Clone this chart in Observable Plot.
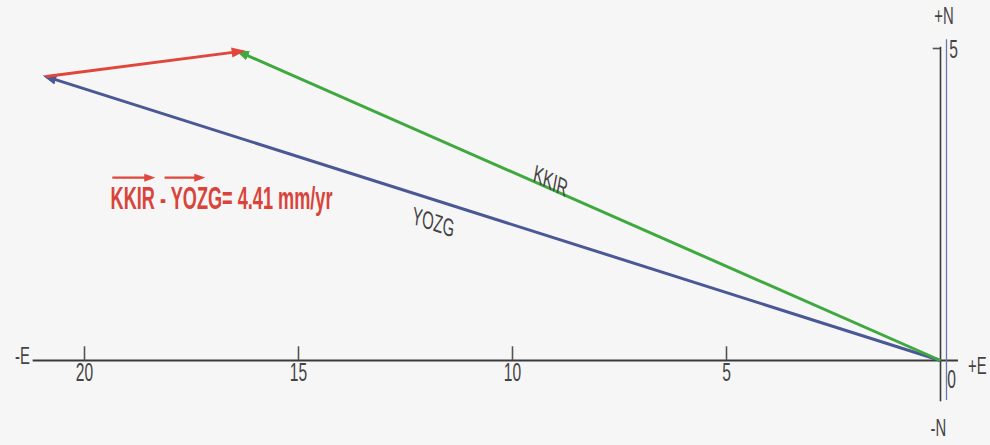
<!DOCTYPE html>
<html><head><meta charset="utf-8">
<script src="https://cdn.jsdelivr.net/npm/d3@7"></script>
<script src="https://cdn.jsdelivr.net/npm/@observablehq/plot@0.6"></script>
<style>
  html, body { margin: 0; padding: 0; background: #f6f6f6; overflow: hidden; }
  #chart svg { display: block; background: #f6f6f6; }
</style>
</head><body><div id="chart"></div>
<script>
// Velocity vectors (mm/yr): East component (negative = west), North component
const stations = ["YOZG", "KKIR"];
const eastVel = [-20.9, -16.4];
const northVel = [4.55, 4.95];
const stationColors = ["#4b5896", "#3fa93f"];
const diffColor = "#e0463b";
const diffLabel = "KKIR - YOZG= 4.41 mm/yr";

// Axis ticks
const xTickValues = [-20, -15, -10, -5];
const xTickLabels = ["20", "15", "10", "5"];
const yTickValues = [5];
const yTickLabels = ["5"];
const originLabel = "0";

// Axis direction labels
const axisLabels = ["-E", "+E", "+N", "-N"];
const axisLabelX = [-21.45, 0.86, 0.08, -0.05];
const axisLabelY = [0.06, -0.1, 5.52, -1.09];

// Station label anchors along the vectors
const stationLabelX = [-11.85, -9.11];
const stationLabelY = [2.21, 2.87];
const stationLabelAngle = [11.5, 16.8];

// Difference annotation
const diffLabelX = [-19.39];
const diffLabelY = [2.6];
const overArrowX1 = [-19.35, -18.13];
const overArrowX2 = [-18.45, -17.28];
const overArrowY = [2.93, 2.93];

const vectors = stations.map((s, i) => ({name: s, e: eastVel[i], n: northVel[i], color: stationColors[i]}));
const diff = [{e1: eastVel[0], n1: northVel[0], e2: eastVel[1], n2: northVel[1]}];
const stationLabels = stations.map((s, i) => ({name: s, x: stationLabelX[i], y: stationLabelY[i], a: stationLabelAngle[i]}));
const axisLab = axisLabels.map((t, i) => ({t, x: axisLabelX[i], y: axisLabelY[i]}));
const xTicks = xTickValues.map((v, i) => ({v, label: xTickLabels[i]}));
const yTicks = yTickValues.map((v, i) => ({v, label: yTickLabels[i]}));
const overArrows = overArrowX1.map((x1, i) => ({x1, x2: overArrowX2[i], y: overArrowY[i]}));

const font = "Liberation Sans, Arial, sans-serif";
const ink = "#3a3a3a";

// filled triangular arrowhead marker
function filledHead(size, refX) {
  return (color, context) => {
    const m = d3.create("svg:marker")
      .attr("viewBox", "-5 -5 10 10")
      .attr("markerWidth", size)
      .attr("markerHeight", size)
      .attr("refX", refX)
      .attr("orient", "auto")
      .attr("fill", color)
      .attr("stroke", "none");
    m.append("path").attr("d", "M-5,-3.6L5,0L-5,3.6Z");
    return m.node();
  };
}

function build(useCustom) {
  const vecMark = useCustom
    ? Plot.link(vectors, {x1: 0, y1: 0, x2: "e", y2: "n", stroke: "color", strokeWidth: 3, markerEnd: filledHead(4.6, 2.5)})
    : Plot.arrow(vectors, {x1: 0, y1: 0, x2: "e", y2: "n", stroke: "color", strokeWidth: 3, headLength: 12, headAngle: 40});
  const diffMark = useCustom
    ? Plot.link(diff, {x1: "e1", y1: "n1", x2: "e2", y2: "n2", stroke: diffColor, strokeWidth: 3, markerEnd: filledHead(4.6, 0)})
    : Plot.arrow(diff, {x1: "e1", y1: "n1", x2: "e2", y2: "n2", stroke: diffColor, strokeWidth: 3, headLength: 12, headAngle: 40, insetEnd: 4});
  const overMark = useCustom
    ? Plot.link(overArrows, {x1: "x1", x2: "x2", y1: "y", y2: "y", stroke: diffColor, strokeWidth: 2.2, markerEnd: filledHead(5, 1)})
    : Plot.arrow(overArrows, {x1: "x1", x2: "x2", y1: "y", y2: "y", stroke: diffColor, strokeWidth: 2.2, headLength: 8, headAngle: 50});
  return Plot.plot({
    width: 990,
    height: 445,
    marginTop: 0, marginBottom: 0, marginLeft: 0, marginRight: 0,
    x: {domain: [-940 / 42.8, 50 / 42.8], axis: null},
    y: {domain: [-85 / 62.4, 360 / 62.4], axis: null},
    color: {type: "identity"},
    style: {background: "#f6f6f6", fontFamily: font},
    marks: [
      // axes
      Plot.ruleY([0], {x1: -21.2, x2: 0.42, stroke: ink, strokeWidth: 2}),
      Plot.ruleX([0], {y1: -0.66, y2: 5.02, stroke: ink, strokeWidth: 1.6}),
      Plot.ruleX([0.14], {y1: -0.64, y2: 5.14, stroke: "#6a78b0", strokeWidth: 1.3}),
      Plot.ruleX(xTicks, {x: "v", y1: 0, y2: 0.22, stroke: "#555", strokeWidth: 1.6}),
      Plot.ruleY(yTicks, {y: "v", x1: -0.17, x2: 0, stroke: "#555", strokeWidth: 1.6}),
      Plot.text(xTicks, {x: "v", y: 0, text: "label", dy: 12, fontSize: 26, fill: "#444", fontFamily: font}),
      Plot.text([originLabel], {x: 0, y: 0, text: d => d, dx: 11, dy: 19, fontSize: 26, fill: "#444", fontFamily: font}),
      Plot.text(yTicks, {x: 0, y: "v", text: "label", dx: 13, dy: 1, fontSize: 26, fill: "#444", fontFamily: font}),
      Plot.text(axisLab, {x: "x", y: "y", text: "t", fontSize: 24, fill: "#444", fontFamily: font}),
      // velocity vectors
      vecMark,
      // difference vector
      diffMark,
      // station labels
      Plot.text(stationLabels, {x: "x", y: "y", text: "name", rotate: "a", fontSize: 25, fill: "#444", fontFamily: font}),
      // difference annotation
      Plot.text(diffLabelX, {x: d => d, y: (d, i) => diffLabelY[i], text: [diffLabel], textAnchor: "start", fontSize: 32, fontWeight: "bold", fill: "#d9443a", fontFamily: font}),
      overMark
    ]
  });
}

let svg;
try { svg = build(true); } catch (e) { svg = build(false); }

// Horizontally condensed lettering, as in the reference
const SXBySize = {"32": 0.567, "26": 0.6, "25": 0.6, "24": 0.62};
d3.select(svg).selectAll("text").each(function () {
  const holder = this.closest("[font-size]");
  const fs = holder ? holder.getAttribute("font-size") : null;
  const SX = SXBySize[fs] || 0.6;
  const t = this.getAttribute("transform");
  if (t && /^translate\(/.test(t)) {
    this.setAttribute("transform", t.replace(/^(translate\([^)]*\))/, `$1 scale(${SX},1)`));
  } else {
    const x = +this.getAttribute("x") || 0, y = +this.getAttribute("y") || 0;
    this.setAttribute("transform", `translate(${x},${y}) scale(${SX},1) translate(${-x},${-y})` + (t ? " " + t : ""));
  }
});

document.getElementById("chart").appendChild(svg);
</script>
</body></html>
